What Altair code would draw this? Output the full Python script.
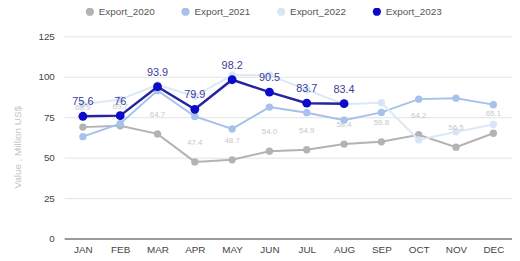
import altair as alt
import pandas as pd

months = ["JAN", "FEB", "MAR", "APR", "MAY", "JUN", "JUL", "AUG", "SEP", "OCT", "NOV", "DEC"]
series_names = ["Export_2020", "Export_2021", "Export_2022", "Export_2023"]
export_2020 = [68.9, 69.7, 64.7, 47.4, 48.7, 54.0, 54.9, 58.4, 59.8, 64.2, 56.5, 65.1]
export_2021 = [63.0, 71.0, 91.5, 75.5, 67.8, 81.3, 77.8, 73.2, 78.0, 86.2, 86.8, 82.8]
export_2022 = [83.0, 86.0, 95.0, 88.0, 101.0, 101.0, 92.0, 83.0, 84.0, 61.0, 66.0, 70.5]
export_2023 = [75.6, 76.0, 93.9, 79.9, 98.2, 90.5, 83.7, 83.4]
colors = ["#b3b3b3", "#a6c1ea", "#d8e5f6", "#0a0ac8"]
line_colors = ["#b3b3b3", "#a6c1ea", "#dde8f6", "#2424a0"]

rows = []
for name, vals in zip(series_names, [export_2020, export_2021, export_2022, export_2023]):
    for m, v in zip(months, vals):
        rows.append({"month": m, "value": v, "series": name})
df = pd.DataFrame(rows)

x = alt.X("month:N", sort=months, title=None,
          scale=alt.Scale(type="point", padding=0.5),
          axis=alt.Axis(labelAngle=0, ticks=False, domain=True, domainColor="#9a9a9a",
                        domainWidth=2, labelColor="#444444", labelFont="Liberation Sans",
                        labelFontSize=10, labelPadding=6, grid=False))
y = alt.Y("value:Q", title="Value , Million US$",
          scale=alt.Scale(domain=[0, 125], nice=False),
          axis=alt.Axis(values=[0, 25, 50, 75, 100, 125], ticks=False, domain=False,
                        gridColor="#e3e3e3", labelColor="#444444", labelFont="Liberation Sans",
                        labelFontSize=10, labelPadding=10, titleColor="#c4c4c4",
                        titleFont="Liberation Sans", titleFontSize=10, titleFontWeight="normal",
                        titlePadding=16, titleY=112))

color_enc = alt.Color("series:N", scale=alt.Scale(domain=series_names, range=colors),
                      legend=alt.Legend(title=None, orient="none", direction="horizontal",
                                        legendX=21, legendY=-30, symbolType="circle",
                                        symbolSize=70, labelFont="Liberation Sans",
                                        labelFontSize=10, labelColor="#555555",
                                        columnPadding=26, symbolOpacity=1))

layers = []
for i, name in enumerate(series_names):
    d = df[df.series == name]
    lw = 2.5 if i == 3 else 2
    layers.append(alt.Chart(d).mark_line(color=line_colors[i], strokeWidth=lw).encode(x=x, y=y))
    size = 80 if i == 3 else 55
    layers.append(alt.Chart(d).mark_point(filled=True, opacity=1, size=size).encode(
        x=x, y=y, color=color_enc))

labels20 = alt.Chart(df[df.series == "Export_2020"]).mark_text(
    dy=-19, fontSize=8, color="#c8c8c8", font="Liberation Sans").encode(
    x=x, y=y, text=alt.Text("value:Q", format=".1f"))
labels23 = alt.Chart(df[df.series == "Export_2023"]).mark_text(
    dy=-14, fontSize=11, color="#3b3b9c", font="Liberation Sans").encode(
    x=x, y=y, text=alt.Text("value:Q"))

chart = alt.layer(*layers, labels20, labels23).properties(
    width=454, height=205,
    autosize=alt.AutoSizeParams(type="none"),
    padding={"left": 57, "top": 27, "right": 0, "bottom": 22},
).configure_view(stroke=None).configure_axis(gridWidth=1)

chart.save("out.html", embed_options={"renderer": "svg", "actions": False})
